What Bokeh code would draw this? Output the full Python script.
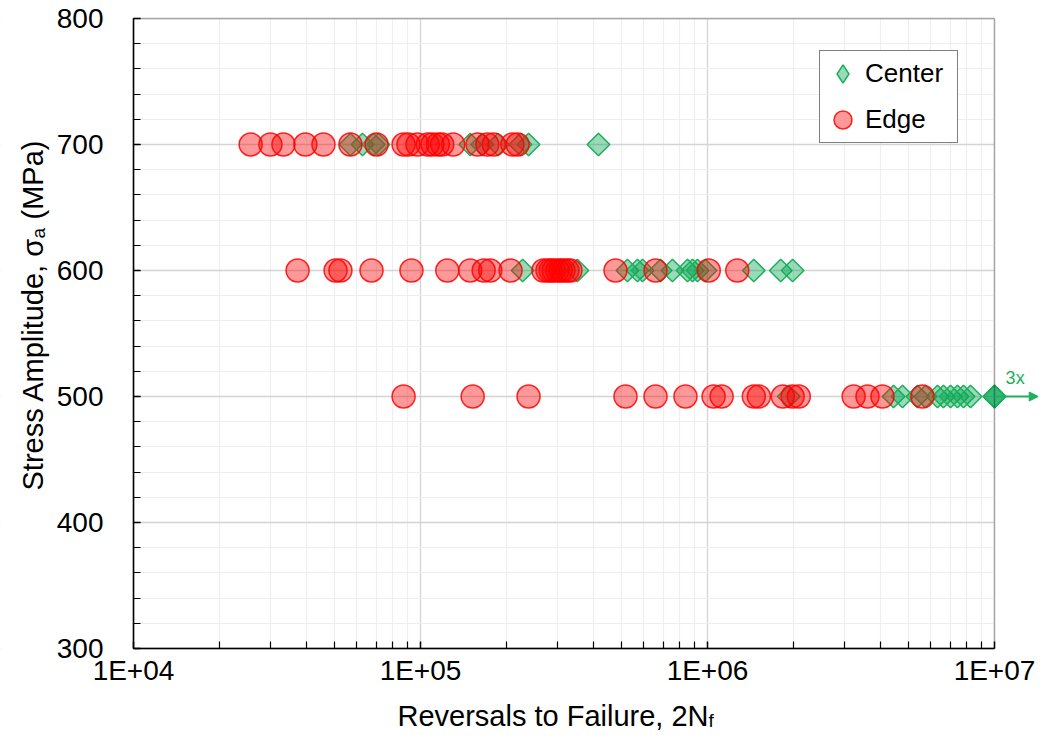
import math
import numpy as np
from bokeh.plotting import figure
from bokeh.models import (Range1d, FixedTicker, Label, Legend, LegendItem, Arrow,
                          NormalHead, ColumnDataSource, BoxAnnotation)
from bokeh.embed import file_html
from bokeh.resources import INLINE

FONT = "Liberation Sans"

# ---------------- data (reversals to failure, 2Nf) ----------------
center_700 = [5.70e4, 6.28e4, 6.86e4, 7.14e4, 1.49e5, 1.64e5, 1.86e5, 2.23e5, 2.38e5, 4.17e5]
center_600 = [2.27e5, 3.52e5, 5.26e5, 5.70e5, 5.94e5, 6.86e5, 7.55e5, 8.52e5, 8.87e5, 9.23e5,
              9.84e5, 1.45e6, 1.80e6, 1.98e6]
center_500 = [1.92e6, 4.45e6, 4.78e6, 5.39e6, 5.75e6, 6.33e6, 6.64e6, 7.03e6, 7.43e6, 7.80e6,
              8.25e6, 1.0e7, 1.0e7, 1.0e7]

edge_700 = [2.56e4, 3.00e4, 3.33e4, 3.97e4, 4.59e4, 5.70e4, 7.03e4, 8.73e4, 9.08e4, 9.76e4,
            1.06e5, 1.10e5, 1.15e5, 1.19e5, 1.30e5, 1.58e5, 1.71e5, 1.80e5, 2.09e5, 2.18e5]
edge_600 = [3.73e4, 5.06e4, 5.26e4, 6.75e4, 9.30e4, 1.24e5, 1.49e5, 1.66e5, 1.75e5, 2.06e5,
            2.68e5, 2.77e5, 2.84e5, 2.91e5, 3.00e5, 3.08e5, 3.15e5, 3.25e5, 3.33e5, 4.78e5,
            6.59e5, 1.01e6, 1.27e6]
edge_500 = [8.73e4, 1.52e5, 2.38e5, 5.18e5, 6.59e5, 8.38e5, 1.05e6, 1.12e6, 1.45e6, 1.51e6,
            1.83e6, 1.98e6, 2.08e6, 3.23e6, 3.61e6, 4.07e6, 5.61e6]

stress_levels = [700, 600, 500]          # MPa
runout_x = 1.0e7                         # runout reversals
runout_y = 500
runout_text = "3x"

x_ticks = [1e4, 1e5, 1e6, 1e7]
x_tick_labels = ["1E+04", "1E+05", "1E+06", "1E+07"]
y_ticks = [300, 400, 500, 600, 700, 800]
series_names = ["Center", "Edge"]

# ---------------- sources ----------------
cx = center_700 + center_600 + center_500
cy = ([stress_levels[0]] * len(center_700) + [stress_levels[1]] * len(center_600)
      + [stress_levels[2]] * len(center_500))
ex = edge_700 + edge_600 + edge_500
ey = ([stress_levels[0]] * len(edge_700) + [stress_levels[1]] * len(edge_600)
      + [stress_levels[2]] * len(edge_500))
csrc = ColumnDataSource(dict(x=cx, y=cy))
esrc = ColumnDataSource(dict(x=ex, y=ey))

# ---------------- layout: frame covers the whole canvas ----------------
CW, CH = 1041, 744
PL, PR, PT, PB = 133, 994, 18, 648          # plot-area box in pixels
x0, x1 = x_ticks[0], x_ticks[-1]
y0, y1 = y_ticks[0], y_ticks[-1]
ppd = (PR - PL) / (math.log10(x1) - math.log10(x0))
ppu = (PB - PT) / (y1 - y0)
xr = Range1d(10 ** (math.log10(x0) - PL / ppd), 10 ** (math.log10(x1) + (CW - PR) / ppd))
yr = Range1d(y0 - (CH - PB) / ppu, y1 + PT / ppu)

GREEN_F = "#00A651"
GREEN_L = "#1DAF5B"
RED = "#FF0000"

p = figure(width=CW, height=CH, x_axis_type="log", x_range=xr, y_range=yr,
           output_backend="svg", toolbar_location=None, title=None,
           min_border_left=0, min_border_right=0, min_border_top=0, min_border_bottom=0,
           background_fill_color="white", border_fill_color="white")
p.outline_line_color = None

x_minor = [m * 10 ** e for e in range(4, 7) for m in range(2, 10)]
y_minor = list(range(y0, y1 + 1, 20))
xt = FixedTicker(ticks=x_ticks, minor_ticks=x_minor)
yt = FixedTicker(ticks=y_ticks, minor_ticks=y_minor)
xa, ya = p.xaxis[0], p.yaxis[0]
xa.ticker = xt
ya.ticker = yt
p.xgrid[0].ticker = xt
p.ygrid[0].ticker = yt
xa.major_label_overrides = dict(zip(x_ticks, x_tick_labels))
xa.fixed_location = y0
ya.fixed_location = x0
xa.bounds = (x0, x1)
ya.bounds = (y0, y1)

for ax in (xa, ya):
    ax.major_tick_in = 7
    ax.major_tick_out = 0
    ax.minor_tick_in = 7
    ax.minor_tick_out = 0
    ax.axis_line_color = "black"
    ax.axis_line_width = 1.5
    ax.major_tick_line_color = "black"
    ax.major_tick_line_width = 1.5
    ax.minor_tick_line_color = "black"
    ax.minor_tick_line_width = 1.2
    ax.major_label_text_font = FONT
    ax.major_label_text_font_size = "28px"
    ax.major_label_text_color = "black"
xa.major_label_standoff = 6
ya.major_label_standoff = 30

for g in (p.xgrid[0], p.ygrid[0]):
    g.grid_line_color = "#D4D4D4"
    g.grid_line_width = 1.3
    g.minor_grid_line_color = "#EEEEEE"
    g.minor_grid_line_width = 1.2

# white masks outside the plot area (over the grid, under the markers)
for kw in (dict(right=x0), dict(left=x1), dict(bottom=y1), dict(top=y0)):
    p.add_layout(BoxAnnotation(level="underlay", fill_color="white", fill_alpha=1,
                               line_color=None, **kw))

rc = p.scatter("x", "y", source=csrc, marker="square", angle=np.pi / 4, size=16,
               fill_color=GREEN_F, fill_alpha=0.4, line_color=GREEN_L, line_width=1.5)
re = p.scatter("x", "y", source=esrc, marker="circle", size=23,
               fill_color=RED, fill_alpha=0.4, line_color=RED, line_alpha=0.85, line_width=1.5)
rc_leg = p.scatter("x", "y", source=csrc, marker="diamond", size=16,
                   fill_color=GREEN_F, fill_alpha=0.4, line_color=GREEN_L, line_width=1.5,
                   visible=False)

# plot-area border
p.add_layout(BoxAnnotation(left=x0, right=x1, bottom=y0, top=y1, fill_color=None,
                           line_color="black", line_width=1.5))

legend = Legend(items=[LegendItem(label=series_names[0], renderers=[rc_leg]),
                       LegendItem(label=series_names[1], renderers=[re])],
                location=(819, 601), orientation="vertical",
                glyph_width=45, glyph_height=45, label_standoff=0, label_width=92,
                padding=0, spacing=1, margin=0,
                label_text_font=FONT, label_text_font_size="26px", label_text_color="black",
                border_line_color="black", border_line_width=1.5,
                background_fill_color="white", background_fill_alpha=1)
p.add_layout(legend)

p.add_layout(Arrow(x_start=runout_x, y_start=runout_y, x_end=runout_x * 1.42, y_end=runout_y,
                   line_color=GREEN_L, line_width=2,
                   end=NormalHead(size=9, fill_color=GREEN_L, line_color=GREEN_L)))
p.add_layout(Label(x=runout_x * 1.18, y=runout_y, y_offset=9, text=runout_text,
                   text_font=FONT, text_font_size="18px", text_color=GREEN_L,
                   text_align="center", text_baseline="bottom"))

# axis titles (with subscripts); screen units = canvas pixels from bottom-left
TS = "29px"
SS = "19px"
def title_part(text, x, y, size, angle=0.0):
    p.add_layout(Label(x=x, y=y, x_units="screen", y_units="screen", angle=angle,
                       text=text, text_font=FONT, text_font_size=size,
                       text_align="left", text_baseline="alphabetic", text_color="black"))

title_part("Stress Amplitude, σ", 32, 254, TS, np.pi / 2)
title_part("a", 38, 506, SS, np.pi / 2)
title_part("(MPa)", 32, 525, TS, np.pi / 2)
title_part("Reversals to Failure, 2N", 397, 29, TS)
title_part("f", 708, 24, SS)

open("out.html", "w").write(file_html(p, INLINE))
